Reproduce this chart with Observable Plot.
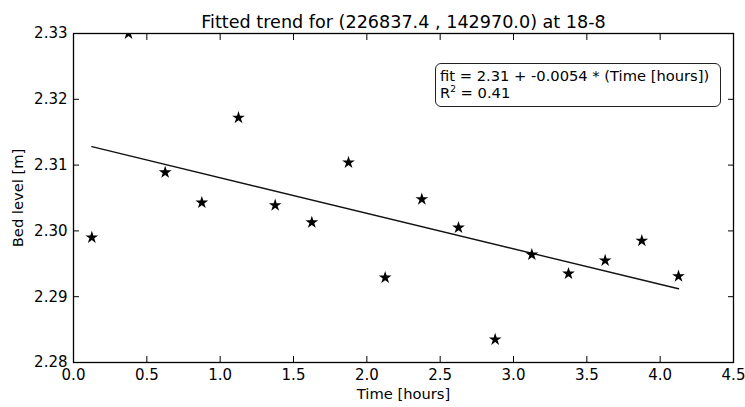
<!DOCTYPE html>
<html>
<head>
<meta charset="utf-8">
<script src="https://cdn.jsdelivr.net/npm/d3@7"></script>
<script src="https://cdn.jsdelivr.net/npm/@observablehq/plot@0.6"></script>
<style>
  html, body { margin: 0; padding: 0; background: #fff; }
  #wrap { position: relative; width: 745px; height: 407px; font-family: "DejaVu Sans", sans-serif; }
  #note { position: absolute; left: 435px; top: 63px; width: 286px; height: 44px;
          border: 1.5px solid #222; border-radius: 6px; box-sizing: border-box;
          font-size: 14.7px; line-height: 17px; padding: 3px 0 0 4px; color: #000; background: #fff; white-space: nowrap; }
  #note sup { font-size: 9px; vertical-align: 6px; line-height: 0; }
</style>
</head>
<body>
<div id="wrap"></div>
<script>
const title = "Fitted trend for (226837.4 , 142970.0) at 18-8";
const xLabel = "Time [hours]";
const yLabel = "Bed level [m]";
const times = [0.125, 0.375, 0.625, 0.875, 1.125, 1.375, 1.625, 1.875, 2.125, 2.375, 2.625, 2.875, 3.125, 3.375, 3.625, 3.875, 4.125];
const bedLevel = [2.2990, 2.3300, 2.3089, 2.3043, 2.3172, 2.3039, 2.3013, 2.3104, 2.2929, 2.3048, 2.3005, 2.2835, 2.2964, 2.2935, 2.2955, 2.2985, 2.2931];
const fitTimes = [0.125, 4.125];
const fitLevels = [2.3128, 2.2912];
const xTicks = [0, 0.5, 1, 1.5, 2, 2.5, 3, 3.5, 4, 4.5];
const yTicks = [2.28, 2.29, 2.30, 2.31, 2.32, 2.33];
const fitText = "fit = 2.31 + -0.0054 * (Time [hours])";
const r2Text = "0.41";

const pts = times.map((t, i) => ({t, v: bedLevel[i]}));
const fit = fitTimes.map((t, i) => ({t, v: fitLevels[i]}));
const blank = () => "";

const chart = Plot.plot({
  width: 745,
  height: 407,
  marginLeft: 73,
  marginRight: 12,
  marginTop: 33,
  marginBottom: 45,
  style: {fontFamily: "DejaVu Sans, sans-serif", fontSize: "15px", color: "#000", background: "#fff"},
  x: {domain: [0, 4.5], ticks: xTicks},
  y: {domain: [2.28, 2.33], ticks: yTicks},
  marks: [
    Plot.axisX({ticks: xTicks, tickSize: 0, tickPadding: 7, tickFormat: d3.format(".1f"), label: null, fontSize: 15}),
    Plot.axisX({ticks: xTicks, tickSize: -6, tickFormat: blank, label: null}),
    Plot.axisX({anchor: "top", ticks: xTicks, tickSize: -6, tickFormat: blank, label: null}),
    Plot.axisY({ticks: yTicks, tickSize: 0, tickPadding: 6, tickFormat: d3.format(".2f"), label: null, fontSize: 15}),
    Plot.axisY({ticks: yTicks, tickSize: -6, tickFormat: blank, label: null}),
    Plot.axisY({anchor: "right", ticks: yTicks, tickSize: -6, tickFormat: blank, label: null}),
    Plot.line(fit, {x: "t", y: "v", stroke: "#111", strokeWidth: 1.4}),
    Plot.dot(pts, {x: "t", y: "v", symbol: "star", fill: "#000", stroke: "none", r: 4, clip: "frame"}),
    Plot.frame({stroke: "#000", strokeWidth: 1.3}),
    Plot.text([title], {frameAnchor: "top", dy: -18, fontSize: 17.6, fill: "#000"}),
    Plot.text([xLabel], {frameAnchor: "bottom", dy: 36, fontSize: 14.7, fill: "#000"}),
    Plot.text([yLabel], {frameAnchor: "left", dx: -55, rotate: -90, textAnchor: "middle", fontSize: 14.7, fill: "#000"})
  ]
});

const wrap = document.getElementById("wrap");
wrap.appendChild(chart);
const note = document.createElement("div");
note.id = "note";
note.innerHTML = fitText + "<br>R<sup>2</sup> = " + r2Text;
wrap.appendChild(note);
</script>
</body>
</html>
